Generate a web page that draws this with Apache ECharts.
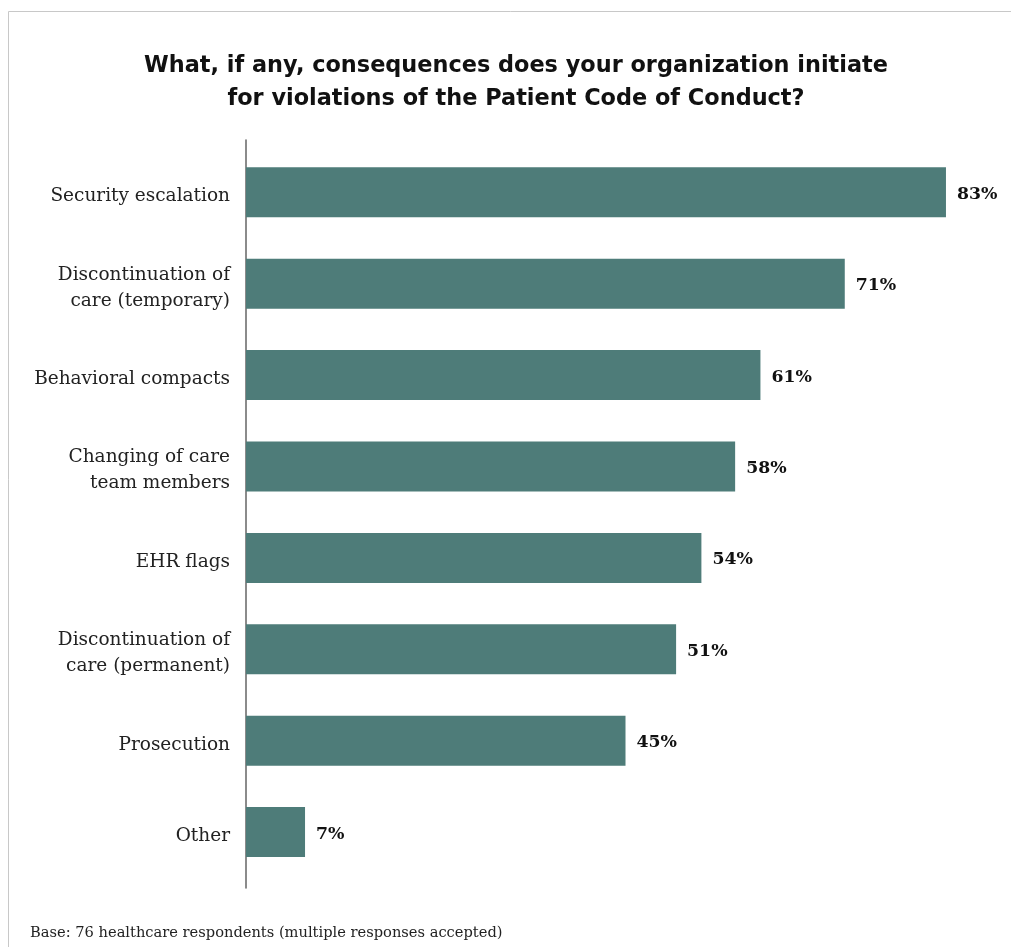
<!DOCTYPE html>
<html>
<head>
<meta charset="utf-8">
<script src="https://cdn.jsdelivr.net/npm/echarts@6/dist/echarts.min.js"></script>
<style>
  html, body { margin: 0; padding: 0; background: #ffffff; }
  #chart { width: 1011px; height: 947px; }
</style>
</head>
<body>
<div id="chart"></div>
<script>
// Survey answers, listed top to bottom
const categories = [
  'Security escalation',
  'Discontinuation of\ncare (temporary)',
  'Behavioral compacts',
  'Changing of care\nteam members',
  'EHR flags',
  'Discontinuation of\ncare (permanent)',
  'Prosecution',
  'Other'
];
// Share of respondents (%)
const shares = [83, 71, 61, 58, 54, 51, 45, 7];

const titleText = 'What, if any, consequences does your organization initiate\nfor violations of the Patient Code of Conduct?';
const baseNote = 'Base: 76 healthcare respondents (multiple responses accepted)';

const BAR_COLOR = '#4e7c79';
const SERIF = '"DejaVu Serif", "Liberation Serif", serif';

// value axis: 90% spans 759 px
const AXIS_MAX = 90;
const PLOT_WIDTH = 759;
const PLOT_TOP = 146.6;
const PLOT_HEIGHT = 731.2;

const chart = echarts.init(document.getElementById('chart'), null, { renderer: 'canvas' });

chart.setOption({
  animation: false,
  backgroundColor: '#ffffff',
  graphic: [{
    type: 'rect',
    silent: true,
    z: -10,
    shape: { x: 8.5, y: 11.5, width: 1200, height: 1200 },
    style: { fill: 'none', stroke: '#c8c8c8', lineWidth: 1 }
  }],
  title: [{
    text: titleText,
    left: 516,
    top: 50,
    padding: 0,
    textAlign: 'center',
    textStyle: {
      fontFamily: '"DejaVu Sans", sans-serif',
      fontWeight: 'bold',
      fontSize: 22.4,
      lineHeight: 33,
      color: '#111111'
    }
  }, {
    text: baseNote,
    left: 30,
    top: 926,
    padding: 0,
    textStyle: {
      fontFamily: SERIF,
      fontWeight: 'normal',
      fontSize: 14.65,
      color: '#222222'
    }
  }],
  grid: [
    // bars
    { left: 246, top: PLOT_TOP, width: PLOT_WIDTH, height: PLOT_HEIGHT, containLabel: false },
    // full-height vertical baseline
    { left: 246, top: 140, width: PLOT_WIDTH, height: 748, containLabel: false },
    // category names, set a little lower than the bar centres
    { left: 246, top: PLOT_TOP + 4, width: PLOT_WIDTH, height: PLOT_HEIGHT, containLabel: false }
  ],
  xAxis: [
    { gridIndex: 0, type: 'value', min: 0, max: AXIS_MAX, show: false },
    { gridIndex: 1, type: 'value', min: 0, max: AXIS_MAX, show: false },
    { gridIndex: 2, type: 'value', min: 0, max: AXIS_MAX, show: false }
  ],
  yAxis: [
    {
      gridIndex: 0,
      type: 'category',
      data: categories,
      inverse: true,
      axisLine: { show: false },
      axisTick: { show: false },
      splitLine: { show: false },
      axisLabel: { show: false }
    },
    {
      gridIndex: 1,
      type: 'value',
      min: 0,
      max: 1,
      axisLine: { show: true, lineStyle: { color: '#6e6e6e', width: 1.6 } },
      axisTick: { show: false },
      axisLabel: { show: false },
      splitLine: { show: false }
    },
    {
      gridIndex: 2,
      type: 'category',
      data: categories,
      inverse: true,
      axisLine: { show: false },
      axisTick: { show: false },
      splitLine: { show: false },
      axisLabel: {
        margin: 16,
        fontFamily: SERIF,
        fontSize: 18.5,
        lineHeight: 26,
        color: '#222222',
        align: 'right'
      }
    }
  ],
  series: [{
    type: 'bar',
    xAxisIndex: 0,
    yAxisIndex: 0,
    data: shares,
    barWidth: 50,
    itemStyle: { color: BAR_COLOR },
    label: {
      show: true,
      position: 'right',
      distance: 11,
      offset: [0, 2],
      formatter: '{c}%',
      fontFamily: SERIF,
      fontWeight: 'bold',
      fontSize: 17.3,
      color: '#111111'
    }
  }]
});
</script>
</body>
</html>
